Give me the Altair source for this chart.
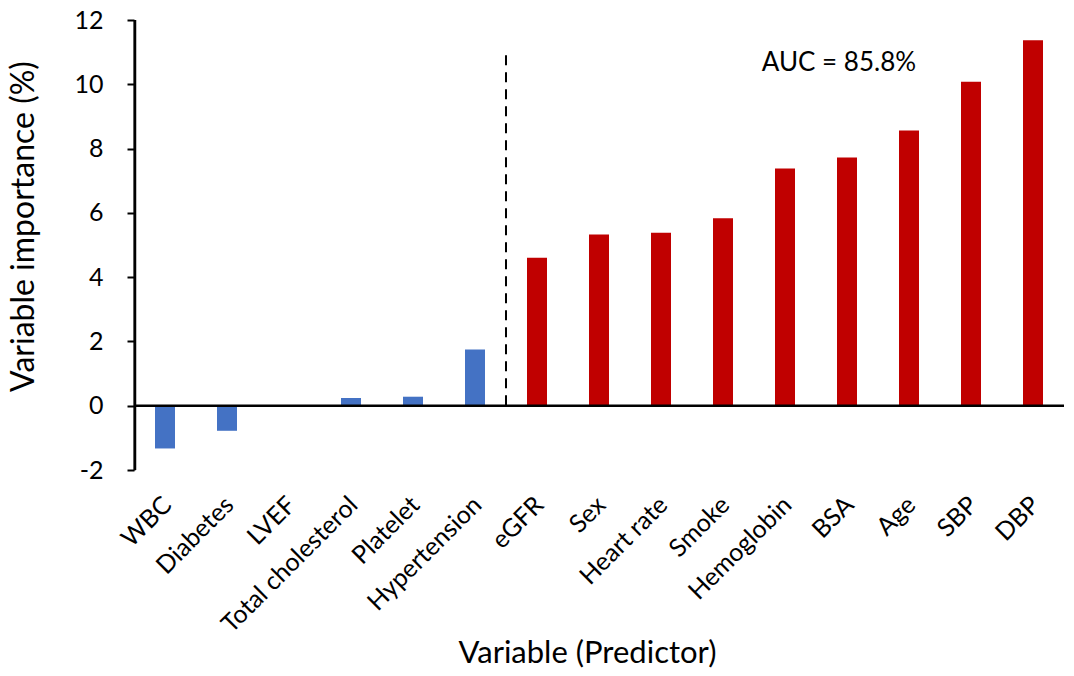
import altair as alt
import pandas as pd

# Predictors ordered by importance, with their importance values (%)
variables = ["WBC", "Diabetes", "LVEF", "Total cholesterol", "Platelet", "Hypertension",
             "eGFR", "Sex", "Heart rate", "Smoke", "Hemoglobin", "BSA", "Age", "SBP", "DBP"]
importance = [-1.33, -0.78, -0.03, 0.24, 0.28, 1.75,
              4.60, 5.33, 5.38, 5.83, 7.38, 7.72, 8.56, 10.08, 11.37]
groups = ["low"] * 6 + ["high"] * 9
y_ticks = [-2, 0, 2, 4, 6, 8, 10, 12]
y_min, y_max = -2, 12

FONT = "Lato"

df = pd.DataFrame({"variable": variables, "importance": importance, "group": groups})

x_scale = alt.Scale(domain=variables, paddingInner=0, paddingOuter=0)
y_scale = alt.Scale(domain=[y_min, y_max], nice=False)

x_axis = alt.Axis(
    title="Variable (Predictor)",
    domain=False,
    ticks=False,
    grid=False,
    labelAngle=-45,
    labelAlign="right",
    labelBaseline="top",
    labelPadding=22,
    labelOffset=-6,
    labelFont=FONT,
    labelFontSize=25,
    labelColor="black",
    labelLimit=300,
    titleFont=FONT,
    titleFontSize=31,
    titleFontWeight="normal",
    titleColor="black",
    titleX=453,
    titleY=192,
    titleAlign="center",
    titleBaseline="alphabetic",
)

y_axis = alt.Axis(
    title="Variable importance (%)",
    values=y_ticks,
    labelExpr="datum.value",
    grid=False,
    domain=True,
    domainColor="black",
    domainWidth=2,
    tickColor="black",
    tickWidth=2,
    tickSize=7,
    labelPadding=24,
    labelFont=FONT,
    labelFontSize=25,
    labelColor="black",
    titleFont=FONT,
    titleFontSize=32,
    titleFontWeight="normal",
    titleColor="black",
    titleAngle=-90,
    titleX=-101,
    titleY=206,
    titleAlign="center",
    titleBaseline="alphabetic",
)

bars = alt.Chart(df).mark_bar(size=20).encode(
    x=alt.X("variable:N", scale=x_scale, sort=None, axis=x_axis),
    y=alt.Y("importance:Q", scale=y_scale, axis=y_axis),
    color=alt.Color("group:N", scale=alt.Scale(domain=["low", "high"], range=["#4472C4", "#C00000"]),
                    legend=None),
)

# Vertical axis line along the left edge of the first category band
axis_df = pd.DataFrame({"variable": [variables[0]], "lo": [y_min], "hi": [y_max]})
axis_line = alt.Chart(axis_df).mark_rule(color="black", strokeWidth=2.5, xOffset=1).encode(
    x=alt.X("variable:N", sort=None, bandPosition=0),
    y=alt.Y("lo:Q"),
    y2="hi:Q",
)

# Horizontal zero line
zero = alt.Chart(pd.DataFrame({"v": [0]})).mark_rule(color="black", strokeWidth=2.5).encode(
    y=alt.Y("v:Q")
)

# Dashed separator between the two groups
sep = pd.DataFrame({"variable": ["Hypertension"], "y0": [0.0], "y1": [10.9]})
divider = alt.Chart(sep).mark_rule(color="black", strokeWidth=2, strokeDash=[10, 7]).encode(
    x=alt.X("variable:N", sort=None, bandPosition=1),
    y=alt.Y("y1:Q"),
    y2="y0:Q",
)

# AUC annotation
auc = pd.DataFrame({"variable": ["BSA"], "y": [10.41], "label": ["AUC = 85.8%"]})
auc_text = alt.Chart(auc).mark_text(
    font=FONT, fontSize=26, color="black", align="center", baseline="alphabetic"
).encode(
    x=alt.X("variable:N", sort=None, bandPosition=0.37),
    y=alt.Y("y:Q"),
    text="label:N",
)

chart = (
    alt.layer(bars, axis_line, zero, divider, auc_text)
    .properties(
        width=930,
        height=450,
        autosize=alt.AutoSizeParams(type="none"),
        padding={"left": 134, "top": 20, "right": 10, "bottom": 206},
        background="white",
    )
    .configure_view(stroke=None)
    .configure_axis(domainColor="black", tickColor="black", labelColor="black",
                    titleColor="black", labelFont=FONT, titleFont=FONT, grid=False)
)

chart.save("out.html", embed_options={"renderer": "svg", "actions": False})
